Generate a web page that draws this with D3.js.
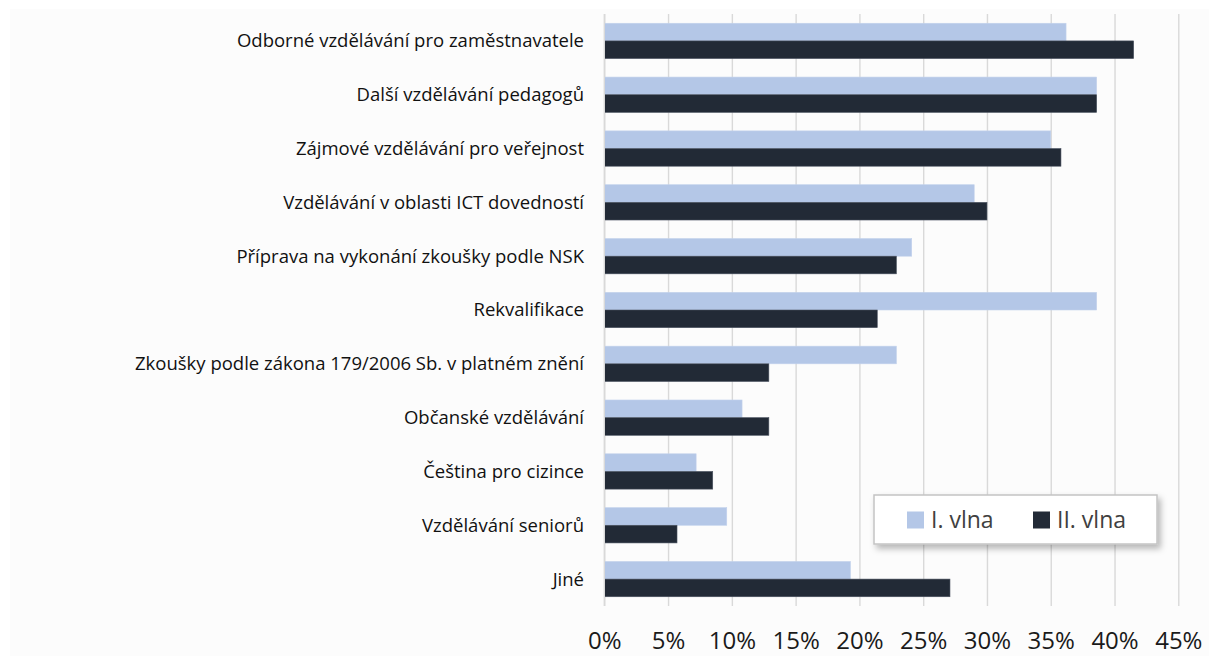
<!DOCTYPE html>
<html>
<head>
<meta charset="utf-8">
<script src="https://cdn.jsdelivr.net/npm/d3@7"></script>
<style>
  html, body { margin: 0; padding: 0; background: #ffffff; }
  svg { display: block; }
</style>
</head>
<body>
<svg id="chart" width="1209" height="656"></svg>
<script>
const categories = [
  "Odborné vzdělávání pro zaměstnavatele",
  "Další vzdělávání pedagogů",
  "Zájmové vzdělávání pro veřejnost",
  "Vzdělávání v oblasti ICT dovedností",
  "Příprava na vykonání zkoušky podle NSK",
  "Rekvalifikace",
  "Zkoušky podle zákona 179/2006 Sb. v platném znění",
  "Občanské vzdělávání",
  "Čeština pro cizince",
  "Vzdělávání seniorů",
  "Jiné"
];
const seriesNames = ["I. vlna", "II. vlna"];
const wave1 = [36.2, 38.6, 35.0, 29.0, 24.1, 38.6, 22.9, 10.8, 7.2, 9.6, 19.3];
const wave2 = [41.5, 38.6, 35.8, 30.0, 22.9, 21.4, 12.9, 12.9, 8.5, 5.7, 27.1];
const xTicks = [0, 5, 10, 15, 20, 25, 30, 35, 40, 45];
const colors = ["#b4c7e7", "#222a36"];

const svg = d3.select("#chart");
const W = 1209, H = 656;
const plot = { left: 604.3, right: 1178.3, top: 14, bottom: 606 };

svg.append("rect").attr("x", 10).attr("y", 9).attr("width", W - 10).attr("height", H - 9).attr("fill", "#fcfcfc");

const x = d3.scaleLinear().domain([0, 45]).range([plot.left, plot.right]);
const y = d3.scaleBand().domain(categories).range([plot.top, plot.bottom]).paddingInner(0.344).paddingOuter(0.172);
const ySub = d3.scaleBand().domain(seriesNames).range([0, y.bandwidth()]);

// gridlines
const grid = d3.axisBottom(x).tickValues(xTicks).tickSize(-(plot.bottom - plot.top)).tickFormat("");
const gg = svg.append("g").attr("transform", `translate(0,${plot.bottom})`).call(grid);
gg.select(".domain").remove();
gg.selectAll("line").attr("stroke", "#d9d9d9").attr("stroke-width", 1.4);

// tick labels
const ax = d3.axisBottom(x).tickValues(xTicks).tickSize(0).tickPadding(0).tickFormat(d => d + "%");
const ag = svg.append("g").attr("transform", `translate(0,${plot.bottom})`).call(ax);
ag.select(".domain").remove();
ag.selectAll("text")
  .attr("y", 43)
  .attr("dy", 0)
  .attr("font-family", "'Open Sans', sans-serif")
  .attr("font-size", 24)
  .attr("fill", "#1a1a1a");

// bars
const series = [wave1, wave2];
series.forEach((vals, si) => {
  svg.append("g").selectAll("rect")
    .data(categories.map((c, i) => ({ c, v: vals[i] })))
    .join("rect")
    .attr("x", x(0))
    .attr("y", d => y(d.c) + ySub(seriesNames[si]))
    .attr("width", d => x(d.v) - x(0))
    .attr("height", ySub.bandwidth())
    .attr("fill", colors[si])
    .attr("stroke", si === 0 ? "#c3d2ec" : "#4a5260")
    .attr("stroke-width", 0.6);
});

// left axis line
svg.append("line")
  .attr("x1", x(0)).attr("x2", x(0))
  .attr("y1", plot.top).attr("y2", plot.bottom)
  .attr("stroke", "#d9d9d9").attr("stroke-width", 1.4);

// category labels
const yAxis = d3.axisLeft(y).tickSize(0).tickPadding(0);
const yg = svg.append("g").attr("transform", `translate(584,0)`).call(yAxis);
yg.select(".domain").remove();
yg.selectAll("text")
  .attr("font-family", "'Open Sans', sans-serif")
  .attr("font-size", 18.5)
  .attr("fill", "#111111")
  .attr("dy", "0.35em");

// legend
const lg = svg.append("g");
const defs = svg.append("defs");
const f = defs.append("filter").attr("id", "sh").attr("x", "-10%").attr("y", "-30%").attr("width", "130%").attr("height", "180%");
f.append("feDropShadow").attr("dx", 3).attr("dy", 4).attr("stdDeviation", 3).attr("flood-color", "#000").attr("flood-opacity", 0.28);
lg.append("rect").attr("x", 874).attr("y", 495).attr("width", 283).attr("height", 49)
  .attr("fill", "#ffffff").attr("stroke", "#c4c4c4").attr("stroke-width", 1.5).attr("filter", "url(#sh)");
const legX = [907, 1033];
seriesNames.forEach((n, i) => {
  lg.append("rect").attr("x", legX[i]).attr("y", 511.5).attr("width", 17).attr("height", 17).attr("fill", colors[i]);
  lg.append("text").attr("x", legX[i] + 24).attr("y", 528)
    .attr("font-family", "'Open Sans', sans-serif").attr("font-size", 23)
    .attr("fill", "#404040").text(n);
});
</script>
</body>
</html>
